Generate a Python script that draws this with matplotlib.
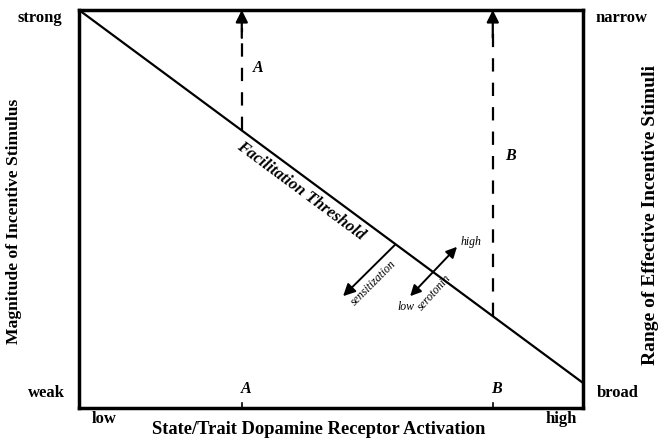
import numpy as np
import matplotlib
matplotlib.use('Agg')
import matplotlib.pyplot as plt

# threshold line (left = strong stimulus, right = broad range)
threshold_x = [0.0, 1.0]
threshold_y = [1.0, 0.063]

# individuals A and B on the activation axis
marker_names = ['A', 'B']
marker_x = [0.323, 0.821]

# small shift arrows
sens_start = (0.627, 0.410)
sens_end = (0.524, 0.281)
sero_low = (0.657, 0.281)
sero_high = (0.750, 0.405)

plt.rcParams['font.family'] = 'Liberation Serif'
plt.rcParams['font.weight'] = 'bold'

fig = plt.figure(figsize=(6.64, 4.40), dpi=100)
ax = fig.add_axes([79/664, 32/440, 504/664, 398/440])
ax.set_xlim(0, 1)
ax.set_ylim(0, 1)
for s in ax.spines.values():
    s.set_linewidth(2.5)
ax.set_xticks([])
ax.set_yticks([])

ax.plot(threshold_x, threshold_y, color='black', lw=1.6)

slope = (threshold_y[1] - threshold_y[0]) / (threshold_x[1] - threshold_x[0])
for name, x in zip(marker_names, marker_x):
    y0 = threshold_y[0] + slope * x
    ax.plot([x, x], [y0, 0.955], color='black', lw=1.6, dashes=(6, 5))
    ax.annotate('', xy=(x, 1.0), xytext=(x, 0.93),
                arrowprops=dict(arrowstyle='-|>', color='black', lw=1.6,
                                mutation_scale=18, shrinkA=0, shrinkB=0))
    ax.plot([x, x], [0, 0.012], color='black', lw=1.2)
    ax.text(x + 0.008, 0.028, name, fontsize=11.5, style='italic',
            ha='center', va='bottom')

ax.text(0.355, 0.854, 'A', fontsize=11.5, style='italic', ha='center', va='center')
ax.text(0.857, 0.633, 'B', fontsize=11.5, style='italic', ha='center', va='center')

ax.text(0.44, 0.546, 'Facilitation Threshold', fontsize=12, style='italic',
        rotation=-36.5, ha='center', va='center')

ax.annotate('', xy=sens_end, xytext=sens_start,
            arrowprops=dict(arrowstyle='-|>', color='black', lw=1.4,
                            mutation_scale=18, shrinkA=0, shrinkB=0))
ax.text(0.585, 0.315, 'sensitization', fontsize=8.5, style='italic',
        fontweight='normal', rotation=45, ha='center', va='center')

ax.annotate('', xy=sero_low, xytext=sero_high,
            arrowprops=dict(arrowstyle='<|-|>', color='black', lw=1.4,
                            mutation_scale=16, shrinkA=0, shrinkB=0))
ax.text(0.705, 0.290, 'serotonin', fontsize=8.5, style='italic',
        fontweight='normal', rotation=48, ha='center', va='center')
ax.text(0.777, 0.418, 'high', fontsize=8.5, style='italic', fontweight='normal',
        ha='center', va='center')
ax.text(0.648, 0.255, 'low', fontsize=8.5, style='italic', fontweight='normal',
        ha='center', va='center')

# end labels
ax.text(-0.034, 0.98, 'strong', fontsize=12, ha='right', va='center')
ax.text(-0.028, 0.038, 'weak', fontsize=12, ha='right', va='center')
ax.text(1.024, 0.98, 'narrow', fontsize=12, ha='left', va='center')
ax.text(1.028, 0.038, 'broad', fontsize=12, ha='left', va='center')
ax.text(0.05, -0.027, 'low', fontsize=12, ha='center', va='center')
ax.text(0.956, -0.027, 'high', fontsize=12, ha='center', va='center')

ax.text(0.476, -0.055, 'State/Trait Dopamine Receptor Activation', fontsize=13.3,
        ha='center', va='center')
ax.text(-0.129, 0.468, 'Magnitude of Incentive Stimulus', fontsize=12.6,
        rotation=90, ha='center', va='center')
ax.text(1.133, 0.485, 'Range of Effective Incentive Stimuli', fontsize=14,
        rotation=90, ha='center', va='center')

fig.savefig('out.png', dpi=100)
